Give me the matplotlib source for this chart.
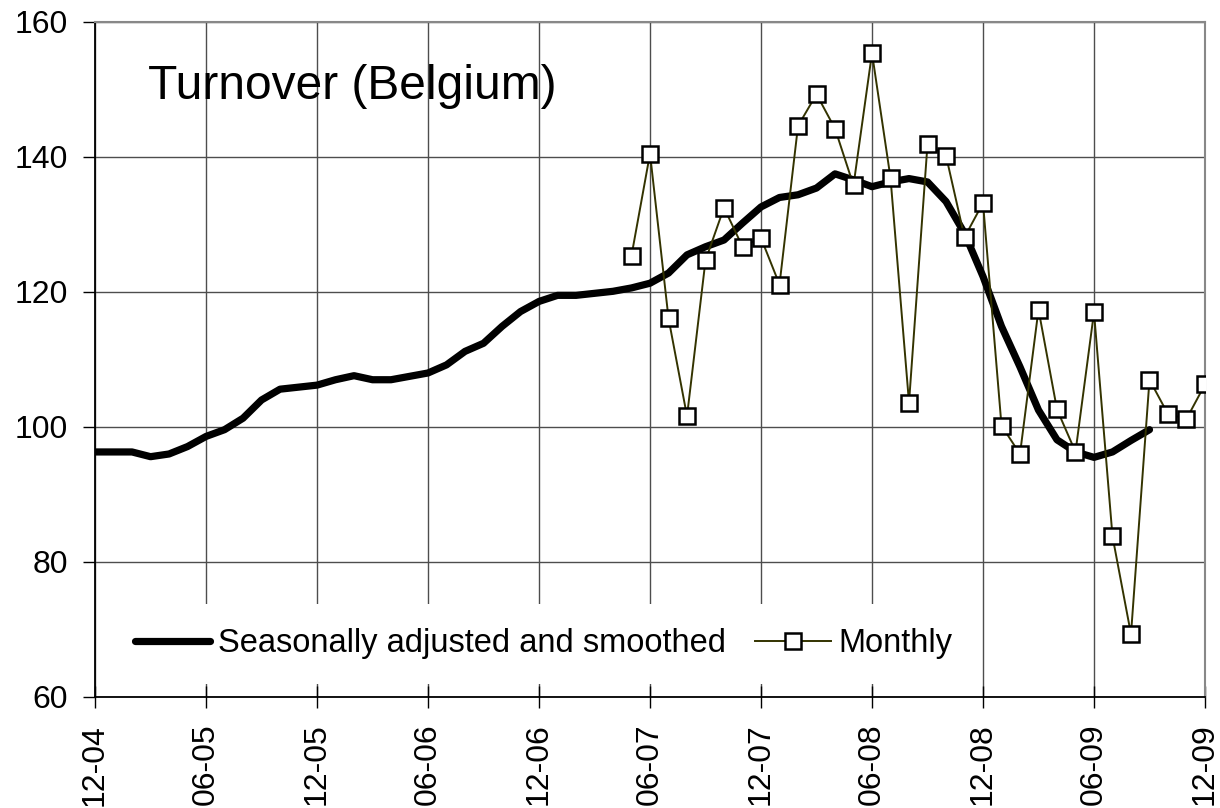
import numpy as np
import matplotlib
matplotlib.use("Agg")
import matplotlib.pyplot as plt
from matplotlib import font_manager

# month index 0 = Dec 2004, ticks every 6 months
tick_labels = ["12-04", "06-05", "12-05", "06-06", "12-06", "06-07",
               "12-07", "06-08", "12-08", "06-09", "12-09"]

# seasonally adjusted and smoothed series, months 0..57
smoothed = [96.3, 96.3, 96.3, 95.6, 96.0, 97.1, 98.6, 99.6, 101.3, 104.0,
            105.6, 105.9, 106.2, 107.0, 107.6, 107.0, 107.0, 107.5, 108.0, 109.2,
            111.2, 112.4, 114.9, 117.1, 118.6, 119.5, 119.5, 119.8, 120.1, 120.6,
            121.3, 122.8, 125.5, 126.7, 127.7, 130.2, 132.6, 134.0, 134.4, 135.4,
            137.5, 136.6, 135.6, 136.3, 136.8, 136.3, 133.4, 128.7, 122.3, 114.9,
            108.9, 102.5, 98.1, 96.3, 95.5, 96.3, 98.0, 99.6]

# raw monthly values, months 29..60
monthly = [125.4, 140.5, 116.1, 101.6, 124.7, 132.5, 126.7, 128.0, 121.1, 144.6,
           149.3, 144.2, 135.8, 155.4, 136.9, 103.6, 141.9, 140.2, 128.1, 133.2,
           100.2, 96.0, 117.4, 102.6, 96.3, 117.0, 83.8, 69.3, 107.0, 101.9,
           101.2, 106.3]
monthly_start = 29

names = {f.name for f in font_manager.fontManager.ttflist}
base_font = "Liberation Sans" if "Liberation Sans" in names else "DejaVu Sans"
narrow_font = "Liberation Sans Narrow" if "Liberation Sans Narrow" in names else base_font
legend_size = 27 if narrow_font != base_font else 23.5
plt.rcParams['font.family'] = [base_font, 'DejaVu Sans']

fig = plt.figure(figsize=(12.2, 8.08), dpi=100)
ax = fig.add_axes([0.0779, 0.1374, 0.9098, 0.8354])

x_s = np.arange(len(smoothed))
x_m = np.arange(monthly_start, monthly_start + len(monthly))

ax.plot(x_s, smoothed, color="black", lw=5.2, solid_capstyle="round",
        solid_joinstyle="round", label="Seasonally adjusted and smoothed", zorder=3)
ax.plot(x_m, monthly, color="#333300", lw=1.4, marker="s", markersize=12,
        markerfacecolor="white", markeredgecolor="black", markeredgewidth=1.8,
        label="Monthly", zorder=4)

ax.set_xlim(0, 60)
ax.set_ylim(60, 160)
ax.set_xticks(np.arange(0, 61, 6))
ax.set_xticklabels(tick_labels, rotation=90, fontsize=23)
ax.set_yticks(np.arange(60, 161, 20))
ax.tick_params(axis="y", labelsize=23, length=8.6, width=1, pad=11, direction="out")
ax.tick_params(axis="x", length=16.5, width=1, pad=11, direction="inout")

ax.grid(True, color="#4d4d4d", lw=1)
ax.set_axisbelow(True)
for s in ["left", "bottom"]:
    ax.spines[s].set_color("black")
    ax.spines[s].set_linewidth(1.3)
for s in ["top", "right"]:
    ax.spines[s].set_color("#888888")
    ax.spines[s].set_linewidth(1.5)

ax.text(0.048, 0.905, "Turnover (Belgium)", transform=ax.transAxes,
        fontsize=34.5, va="center", ha="left")

leg = ax.legend(loc="lower left", bbox_to_anchor=(0.005, 0.005), ncol=2,
                frameon=True, fancybox=False, framealpha=1,
                prop={"family": narrow_font, "size": legend_size},
                handlelength=2.3, handletextpad=0.25, columnspacing=0.9,
                borderpad=0.75, borderaxespad=0.3)
leg.get_frame().set_edgecolor("none")
leg.get_frame().set_facecolor("white")

fig.savefig("out.png", dpi=100)
